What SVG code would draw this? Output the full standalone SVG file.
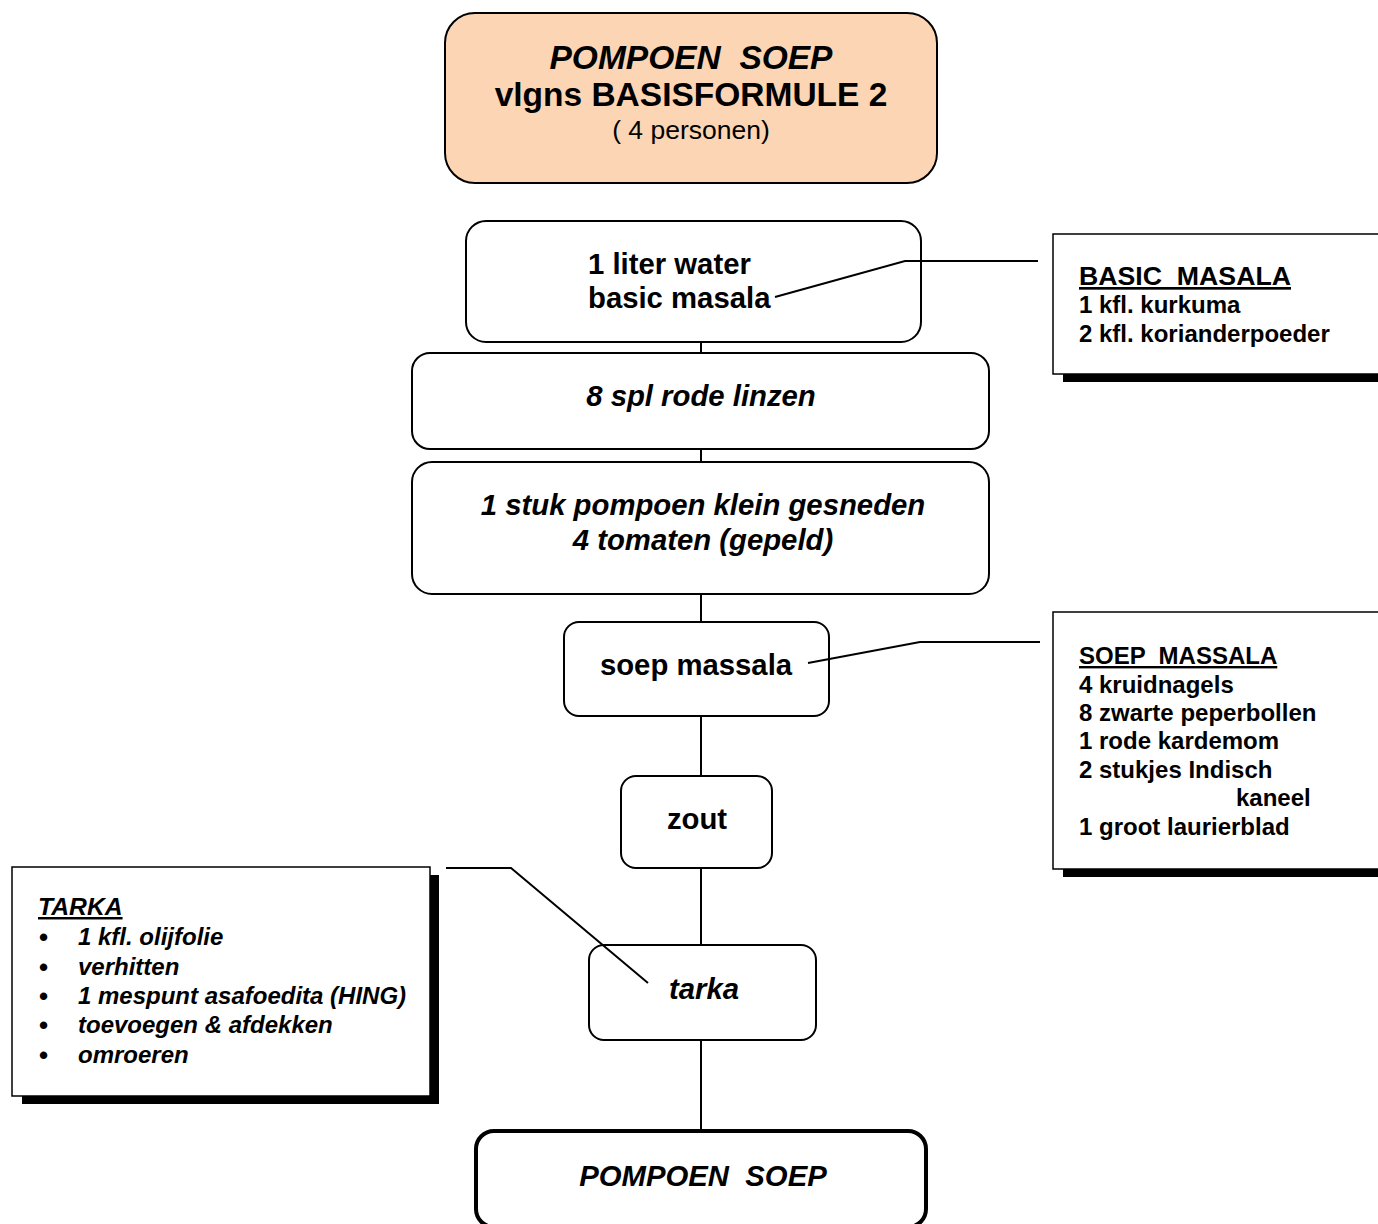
<svg xmlns="http://www.w3.org/2000/svg" width="1378" height="1224" viewBox="0 0 1378 1224">
<style>
text{font-family:"Liberation Sans",Arial,sans-serif;font-weight:bold;fill:#000;white-space:pre}
.box{fill:#fff;stroke:#000;stroke-width:2}
.cb{fill:#fff;stroke:#000;stroke-width:1.5}
.sh{fill:#000}
.ln{stroke:#000;stroke-width:2;fill:none}
.m{font-size:29.3px;text-anchor:middle}
.i{font-style:italic}
.c{font-size:24px}
.u{text-decoration:underline}
.b{font-size:26px}
</style>
<rect width="1378" height="1224" fill="#fff"/>
<g id="title">
<rect x="445" y="13" width="492" height="170" rx="30" fill="#FCD5B4" stroke="#000" stroke-width="2"/>
<text x="691" y="69" font-size="33.5" text-anchor="middle" class="i">POMPOEN  SOEP</text>
<text x="691" y="106" font-size="33.5" text-anchor="middle">vlgns BASISFORMULE 2</text>
<text x="691" y="139" font-size="26.5" text-anchor="middle" style="font-weight:normal">( 4 personen)</text>
</g>
<g id="water">
<rect class="box" x="466" y="221" width="455" height="121" rx="20"/>
<text x="588" y="274" font-size="29.3">1 liter water</text>
<text x="588" y="308" font-size="29.3">basic masala</text>
</g>
<g id="linzen">
<rect class="box" x="412" y="353" width="577" height="96" rx="18"/>
<text x="701" y="406" class="m i">8 spl rode linzen</text>
</g>
<g id="pompoen">
<rect class="box" x="412" y="462" width="577" height="132" rx="20"/>
<text x="703" y="515" class="m i">1 stuk pompoen klein gesneden</text>
<text x="703" y="550" class="m i">4 tomaten (gepeld)</text>
</g>
<g id="soepmassala">
<rect class="box" x="564" y="622" width="265" height="94" rx="15"/>
<text x="696" y="675" class="m">soep massala</text>
</g>
<g id="zout">
<rect class="box" x="621" y="776" width="151" height="92" rx="15"/>
<text x="697" y="829" class="m">zout</text>
</g>
<g id="tarka">
<rect class="box" x="589" y="945" width="227" height="95" rx="15"/>
<text x="704" y="999" class="m i">tarka</text>
</g>
<g id="result">
<rect x="476" y="1131" width="450" height="96" rx="18" fill="#fff" stroke="#000" stroke-width="4"/>
<text x="703" y="1186" class="m i">POMPOEN  SOEP</text>
</g>
<g id="basic-masala-note">
<rect class="sh" x="1063" y="242" width="315" height="140"/>
<rect class="cb" x="1053" y="234" width="330" height="140"/>
<text x="1079" y="285" font-size="26.7" class="u">BASIC  MASALA</text>
<text x="1079" y="313" class="c">1 kfl. kurkuma</text>
<text x="1079" y="342" class="c">2 kfl. korianderpoeder</text>
</g>
<g id="soep-massala-note">
<rect class="sh" x="1063" y="620" width="315" height="257"/>
<rect class="cb" x="1053" y="612" width="330" height="257"/>
<text x="1079" y="664" class="c u">SOEP  MASSALA</text>
<text x="1079" y="693" class="c">4 kruidnagels</text>
<text x="1079" y="721" class="c">8 zwarte peperbollen</text>
<text x="1079" y="749" class="c">1 rode kardemom</text>
<text x="1079" y="778" class="c">2 stukjes Indisch</text>
<text x="1236" y="806" class="c">kaneel</text>
<text x="1079" y="835" class="c">1 groot laurierblad</text>
</g>
<g id="tarka-note">
<rect class="sh" x="22" y="875" width="417" height="229"/>
<rect class="cb" x="12" y="867" width="418" height="229"/>
<text x="38" y="915" font-size="24.7" class="i u">TARKA</text>
<text x="39" y="946" class="b">•</text><text x="78" y="945" class="c i">1 kfl. olijfolie</text>
<text x="39" y="976" class="b">•</text><text x="78" y="975" class="c i">verhitten</text>
<text x="39" y="1005" class="b">•</text><text x="78" y="1004" class="c i">1 mespunt asafoedita (HING)</text>
<text x="39" y="1034" class="b">•</text><text x="78" y="1033" class="c i">toevoegen &amp; afdekken</text>
<text x="39" y="1064" class="b">•</text><text x="78" y="1063" class="c i">omroeren</text>
</g>
<g id="connectors">
<line class="ln" x1="701" y1="342" x2="701" y2="353"/>
<line class="ln" x1="701" y1="449" x2="701" y2="462"/>
<line class="ln" x1="701" y1="594" x2="701" y2="622"/>
<line class="ln" x1="701" y1="716" x2="701" y2="776"/>
<line class="ln" x1="701" y1="868" x2="701" y2="945"/>
<line class="ln" x1="701" y1="1040" x2="701" y2="1129"/>
<line class="ln" x1="694" y1="1130" x2="708" y2="1130"/>
<polyline class="ln" points="775,297 905,261 1038,261"/>
<polyline class="ln" points="808,663 920,642 1040,642"/>
<polyline class="ln" points="446,868 511,868 648,983"/>
</g>
</svg>
